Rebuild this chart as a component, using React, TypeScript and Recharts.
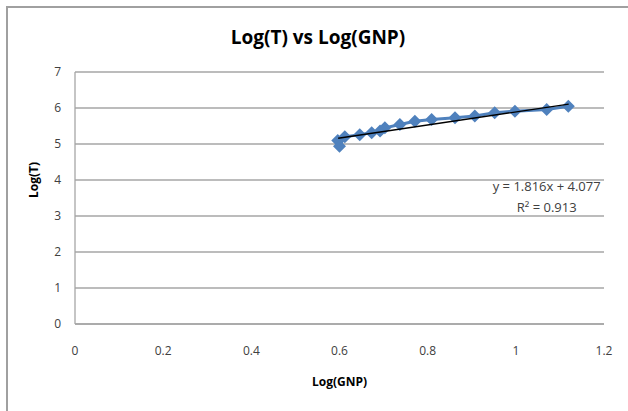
import { ScatterChart, Scatter, XAxis, YAxis, CartesianGrid, ReferenceDot } from 'recharts';

const logGnp = [0.596, 0.600, 0.612, 0.646, 0.673, 0.692, 0.703, 0.737, 0.771, 0.809, 0.862, 0.907, 0.952, 0.998, 1.07, 1.119];
const logT = [5.10, 4.94, 5.20, 5.26, 5.31, 5.36, 5.45, 5.54, 5.63, 5.68, 5.73, 5.78, 5.87, 5.91, 5.96, 6.05];

const trendX = [0.597, 1.12];
const trendY = [5.16, 6.11];

const xTicks = [0, 0.2, 0.4, 0.6, 0.8, 1, 1.2];
const yTicks = [0, 1, 2, 3, 4, 5, 6, 7];

const points = logGnp.map((x, i) => ({ x, y: logT[i] }));
const trend = trendX.map((x, i) => ({ x, y: trendY[i] }));

const font = "'Open Sans', 'Noto Sans', sans-serif";

const Diamond = (props: any) => {
  const { cx, cy } = props;
  const r = 6.5;
  return <polygon points={`${cx},${cy - r} ${cx + r},${cy} ${cx},${cy + r} ${cx - r},${cy}`} fill="#4f81bd" />;
};

const EqLabel = (props: any) => {
  const { viewBox } = props;
  const cx = viewBox.x;
  const cy = viewBox.y;
  return (
    <g fontFamily={font} fontSize={13} fill="#404040" textAnchor="middle">
      <text x={cx} y={cy}>y = 1.816x + 4.077</text>
      <text x={cx} y={cy + 21}>R² = 0.913</text>
    </g>
  );
};

export default function App() {
  return (
    <div style={{ position: 'fixed', left: 0, top: 0, width: 628, height: 411, background: '#fff' }}>
      <div style={{ position: 'absolute', left: 6, top: 6, right: 0, bottom: 0, borderLeft: '2px solid #a0a0a0', borderTop: '2px solid #a0a0a0' }} />
      <div style={{ position: 'absolute', left: 0, width: 636, top: 24, textAlign: 'center', fontFamily: font, fontWeight: 700, fontSize: 19, color: '#000' }}>
        Log(T) vs Log(GNP)
      </div>
      <div style={{ position: 'absolute' }}>
        <ScatterChart width={628} height={411} margin={{ top: 72, right: 24, bottom: 57, left: 0 }}>
          <CartesianGrid vertical={false} stroke="#a6a6a6" strokeWidth={1.3} />
          <XAxis
            type="number"
            dataKey="x"
            domain={[0, 1.2]}
            ticks={xTicks}
            tickLine={false}
            tickMargin={16}
            stroke="#a6a6a6"
            strokeWidth={1.3}
            tick={{ fill: '#404040', fontFamily: font, fontSize: 12 }}
            label={{ value: 'Log(GNP)', position: 'bottom', offset: 23, fill: '#000', fontFamily: font, fontSize: 12, fontWeight: 700 }}
          />
          <YAxis
            type="number"
            dataKey="y"
            width={75}
            domain={[0, 7]}
            ticks={yTicks}
            tickLine={false}
            tickMargin={8}
            stroke="#a6a6a6"
            strokeWidth={1.3}
            tick={{ fill: '#404040', fontFamily: font, fontSize: 12 }}
            label={{ value: 'Log(T)', angle: -90, position: 'insideLeft', offset: 34, fill: '#000', fontFamily: font, fontSize: 12, fontWeight: 700 }}
          />
          <Scatter
            data={points}
            shape={<Diamond />}
            line={{ stroke: '#4f81bd', strokeWidth: 3 }}
            isAnimationActive={false}
          />
          <Scatter
            data={trend}
            shape={() => null}
            line={{ stroke: '#000', strokeWidth: 1.3 }}
            isAnimationActive={false}
          />
          <ReferenceDot x={1.07} y={3.7} r={0} stroke="none" label={<EqLabel />} />
        </ScatterChart>
      </div>
    </div>
  );
}
